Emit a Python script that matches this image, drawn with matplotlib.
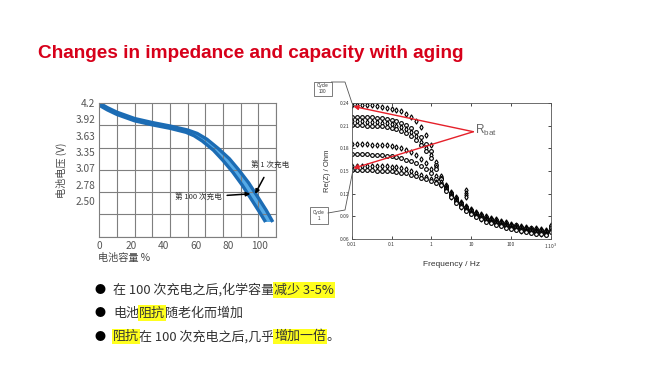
import matplotlib
matplotlib.use('Agg')
import matplotlib.pyplot as plt
from matplotlib.lines import Line2D
from matplotlib.patches import Rectangle
import numpy as np

plt.rcParams['font.family'] = ['Noto Sans CJK SC', 'DejaVu Sans']

W, H = 660, 372

# left chart: discharge curves (capacity %, voltage V)
cycle1_cap = [0, 5, 11, 22, 33, 44, 55, 61, 67, 74, 81, 87, 93, 99, 104, 108]
cycle1_v = [4.20, 4.12, 4.04, 3.93, 3.86, 3.80, 3.73, 3.67, 3.57, 3.41, 3.23, 3.03, 2.81, 2.55, 2.33, 2.13]
cycle100_cap = [0, 5, 11, 22, 33, 44, 54, 59, 64, 71, 77, 83, 89, 95, 100, 103.5]
cycle100_v = [4.16, 4.08, 4.00, 3.89, 3.82, 3.76, 3.69, 3.63, 3.54, 3.38, 3.20, 3.00, 2.77, 2.51, 2.29, 2.13]
volt_ticks = [4.2, 3.92, 3.63, 3.35, 3.07, 2.78, 2.50]
volt_labels = ['4.2', '3.92', '3.63', '3.35', '3.07', '2.78', '2.50']
cap_ticks = [0, 20, 40, 60, 80, 100]

# right chart: Re(Z) vs frequency, one list per measured cycle
freq = [0.01, 0.0133, 0.0178, 0.0237, 0.0316, 0.0422, 0.0562, 0.075,
        0.1, 0.133, 0.178, 0.237, 0.316, 0.422, 0.562, 0.75,
        1, 1.33, 1.78, 2.37, 3.16, 4.22, 5.62, 7.5,
        10, 13.3, 17.8, 23.7, 31.6, 42.2, 56.2, 75,
        100, 133, 178, 237, 316, 422, 562, 750, 1000]
rz_a = [0.238, 0.238, 0.238, 0.237, 0.237, 0.236, 0.235, 0.234,
        0.232, 0.231, 0.229, 0.226, 0.222, 0.216, 0.208, 0.198,
        0.184, 0.162, 0.143, 0.131, 0.122, 0.115, 0.109, 0.104,
        0.100, 0.096, 0.093, 0.090, 0.088, 0.086, 0.084, 0.082,
        0.080, 0.079, 0.077, 0.076, 0.075, 0.074, 0.073, 0.072, 0.079]
rz_b = [0.222, 0.222, 0.222, 0.221, 0.221, 0.220, 0.220, 0.219,
        0.218, 0.216, 0.214, 0.211, 0.207, 0.202, 0.195, 0.186,
        0.176, 0.158, 0.141, 0.130, 0.121, 0.114, 0.108, 0.103,
        0.099, 0.095, 0.092, 0.089, 0.087, 0.085, 0.083, 0.081,
        0.079, 0.078, 0.076, 0.075, 0.074, 0.073, 0.072, 0.071, 0.077]
rz_c = [0.216, 0.216, 0.216, 0.215, 0.215, 0.215, 0.214, 0.213,
        0.212, 0.210, 0.208, 0.205, 0.201, 0.196, 0.189, 0.180,
        0.171, 0.155, 0.140, 0.129, 0.120, 0.113, 0.107, 0.102,
        0.098, 0.094, 0.091, 0.088, 0.086, 0.084, 0.082, 0.080,
        0.078, 0.077, 0.075, 0.074, 0.073, 0.072, 0.071, 0.070, 0.075]
rz_d = [0.211, 0.211, 0.211, 0.210, 0.210, 0.210, 0.209, 0.208,
        0.207, 0.205, 0.203, 0.200, 0.196, 0.191, 0.184, 0.176,
        0.167, 0.153, 0.139, 0.128, 0.119, 0.112, 0.106, 0.101,
        0.097, 0.093, 0.090, 0.087, 0.085, 0.083, 0.081, 0.079,
        0.077, 0.076, 0.074, 0.073, 0.072, 0.071, 0.070, 0.069, 0.074]
rz_e = [0.186, 0.186, 0.186, 0.186, 0.185, 0.185, 0.185, 0.184,
        0.183, 0.182, 0.180, 0.178, 0.175, 0.171, 0.166, 0.160,
        0.153, 0.144, 0.135, 0.127, 0.118, 0.111, 0.105, 0.100,
        0.096, 0.092, 0.089, 0.086, 0.084, 0.082, 0.080, 0.078,
        0.076, 0.075, 0.073, 0.072, 0.071, 0.070, 0.069, 0.068, 0.072]
rz_f = [0.172, 0.172, 0.172, 0.172, 0.171, 0.171, 0.171, 0.170,
        0.170, 0.169, 0.167, 0.165, 0.163, 0.160, 0.156, 0.152,
        0.147, 0.140, 0.133, 0.126, 0.117, 0.110, 0.104, 0.099,
        0.095, 0.091, 0.088, 0.085, 0.083, 0.081, 0.079, 0.077,
        0.075, 0.074, 0.072, 0.071, 0.070, 0.069, 0.068, 0.067, 0.071]
rz_g = [0.157, 0.157, 0.157, 0.157, 0.157, 0.156, 0.156, 0.156,
        0.155, 0.155, 0.154, 0.152, 0.150, 0.148, 0.145, 0.142,
        0.139, 0.135, 0.132, 0.125, 0.116, 0.109, 0.103, 0.098,
        0.094, 0.090, 0.087, 0.084, 0.082, 0.080, 0.078, 0.076,
        0.074, 0.073, 0.071, 0.070, 0.069, 0.068, 0.067, 0.066, 0.070]
rz_h = [0.151, 0.151, 0.151, 0.151, 0.151, 0.150, 0.150, 0.150,
        0.150, 0.149, 0.148, 0.147, 0.145, 0.143, 0.141, 0.139,
        0.137, 0.134, 0.131, 0.124, 0.115, 0.108, 0.102, 0.097,
        0.093, 0.089, 0.086, 0.083, 0.081, 0.079, 0.077, 0.075,
        0.073, 0.072, 0.070, 0.069, 0.068, 0.067, 0.066, 0.065, 0.069]
outlier_f = [7.3, 7.3, 7.3, 7.3]
outlier_rz = [0.125, 0.121, 0.118, 0.115]
rz_ticks = [0.06, 0.09, 0.12, 0.15, 0.18, 0.21, 0.24]
rz_tick_labels = ['0.06', '0.09', '0.12', '0.15', '0.18', '0.21', '0.24']
f_ticks = [0.01, 0.1, 1, 10, 100, 1000]
f_tick_labels = ['0.01', '0.1', '1', '10', '100', '1 10$^3$']

bullets = [
    [('在 100 次充电之后,化学容量', False), ('减少 3-5%', True)],
    [('电池', False), ('阻抗', True), ('随老化而增加', False)],
    [('阻抗', True), ('在 100 次充电之后,几乎', False), ('增加一倍', True), ('。', False)],
]


def px(x, y):
    # slide pixel -> figure fraction
    return x / W, 1 - y / H


def box(l, t, r, b):
    return [l / W, 1 - b / H, (r - l) / W, (b - t) / H]


fig = plt.figure(figsize=(6.6, 3.72), dpi=100)
fig.patch.set_facecolor('white')

# title
fig.text(*px(38, 58), 'Changes in impedance and capacity with aging', color='#d7001a',
         fontsize=13.7, fontweight='bold', family='Liberation Sans', va='baseline')

# ---- left chart
ax = fig.add_axes(box(99.3, 103, 276, 236.7))
ylo = 1.874
ax.set_xlim(0, 110)
ax.set_ylim(ylo, 4.2)
ax.fill(cycle1_cap + cycle100_cap[::-1], cycle1_v + cycle100_v[::-1], color='#56aae6', lw=0)
ax.plot(cycle1_cap, cycle1_v, color='#1c6cb4', lw=2.4, solid_capstyle='butt')
ax.plot(cycle100_cap, cycle100_v, color='#1c6cb4', lw=2.4, solid_capstyle='butt')
ax.set_xticks(cap_ticks)
ax.set_yticks(volt_ticks)
ax.set_yticklabels(volt_labels)
ax.set_xticks(np.linspace(0, 110, 11), minor=True)
ax.set_yticks(np.linspace(ylo, 4.2, 7), minor=True)
ax.grid(which='minor', color='#7f7f7f', lw=0.8)
ax.grid(which='major', visible=False)
ax.tick_params(which='both', length=0, labelsize=7.3, labelcolor='#555555', pad=3)
for s in ax.spines.values():
    s.set_color('#7f7f7f')
    s.set_linewidth(0.8)
ax.set_ylabel('电池电压 (V)', fontsize=7.3, color='#444444', labelpad=6)
ax.text(-0.01, -0.16, '电池容量 %', transform=ax.transAxes, fontsize=7.3, color='#444444',
        va='center', ha='left')
ax.annotate('第 1 次充电', xy=(97, 2.62), xytext=(94.5, 3.11), fontsize=5.5, color='#333333',
            ha='left', va='center',
            arrowprops=dict(arrowstyle='-|>', color='black', lw=1.1, mutation_scale=6,
                            shrinkA=4, shrinkB=0))
ax.annotate('第 100 次充电', xy=(94, 2.62), xytext=(47, 2.56), fontsize=5.5, color='#333333',
            ha='left', va='center',
            arrowprops=dict(arrowstyle='-|>', color='black', lw=1.1, mutation_scale=6,
                            shrinkA=2, shrinkB=0))

# ---- right chart
ax2 = fig.add_axes(box(351.7, 103, 550.7, 239))
markers = ['d', 'o', 'd', 'o', 'd', 'o', 'd', 'o']
for m, rz in zip(markers, [rz_a, rz_b, rz_c, rz_d, rz_e, rz_f, rz_g, rz_h]):
    ax2.plot(freq, rz, ls='none', marker=m, ms=2.7, mfc='white', mec='black', mew=0.8)
ax2.plot(outlier_f, outlier_rz, ls='none', marker='d', ms=2.7, mfc='white', mec='black', mew=0.8)
ax2.set_xscale('log')
ax2.set_xlim(0.01, 1000)
ax2.set_ylim(0.06, 0.24)
ax2.set_xticks(f_ticks)
ax2.set_xticklabels(f_tick_labels)
ax2.minorticks_off()
ax2.set_yticks(rz_ticks)
ax2.set_yticklabels(rz_tick_labels)
ax2.tick_params(direction='in', top=True, right=True, length=2.5, width=0.5,
                labelsize=3.5, labelcolor='#333333', pad=2)
for s in ax2.spines.values():
    s.set_color('#555555')
    s.set_linewidth(0.6)
ax2.set_xlabel('Frequency / Hz', fontsize=6, family='Liberation Sans', color='#333333', labelpad=7)
ax2.set_ylabel('Re(Z) / Ohm', fontsize=5.5, family='Liberation Sans', color='#333333', labelpad=6)

red = '#e5202a'
for tip in [(0.011, 0.2355), (0.011, 0.1535)]:
    ax2.annotate('', xy=tip, xytext=(11.4, 0.202),
                 arrowprops=dict(arrowstyle='-|>', color=red, lw=1.0, mutation_scale=7,
                                 shrinkA=0, shrinkB=0))
ax2.text(12.5, 0.2035, r'$\mathregular{R_{bat}}$', fontsize=8.5, color='#666666', va='center',
         family='Liberation Sans')

# cycle callouts
for (l, t, r, b), label, path in [
        ((314, 81.5, 331.5, 96), 'Cycle\n100', [(331.5, 82), (345, 82), (352, 103)]),
        ((310, 206.5, 328, 224), 'Cycle\n1', [(328, 213), (345, 210), (353, 170)])]:
    fig.add_artist(Rectangle(px(l, b), (r - l) / W, (b - t) / H, transform=fig.transFigure,
                             fill=False, edgecolor='#666666', lw=0.6))
    fig.text(*px((l + r) / 2, (t + b) / 2), label, fontsize=3.3, ha='center', va='center',
             family='Liberation Sans', color='#333333', linespacing=1.3)
    xs, ys = zip(*[px(x, y) for x, y in path])
    fig.add_artist(Line2D(xs, ys, transform=fig.transFigure, color='#555555', lw=0.6))

# ---- bullet list with highlighted phrases
renderer = fig.canvas.get_renderer()
for i, parts in enumerate(bullets):
    y = 290 + i * 23.3
    fig.text(*px(100, y), '●', fontsize=8, ha='center', va='center', color='black')
    x = 113
    for seg, hl in parts:
        kw = {}
        if hl:
            kw['bbox'] = dict(boxstyle='square,pad=0.1', facecolor='#ffff1e', edgecolor='none')
        t = fig.text(*px(x, y), seg, fontsize=9.4, color='#333333', va='center', ha='left', **kw)
        x += t.get_window_extent(renderer).width

fig.savefig('out.png', dpi=100)
